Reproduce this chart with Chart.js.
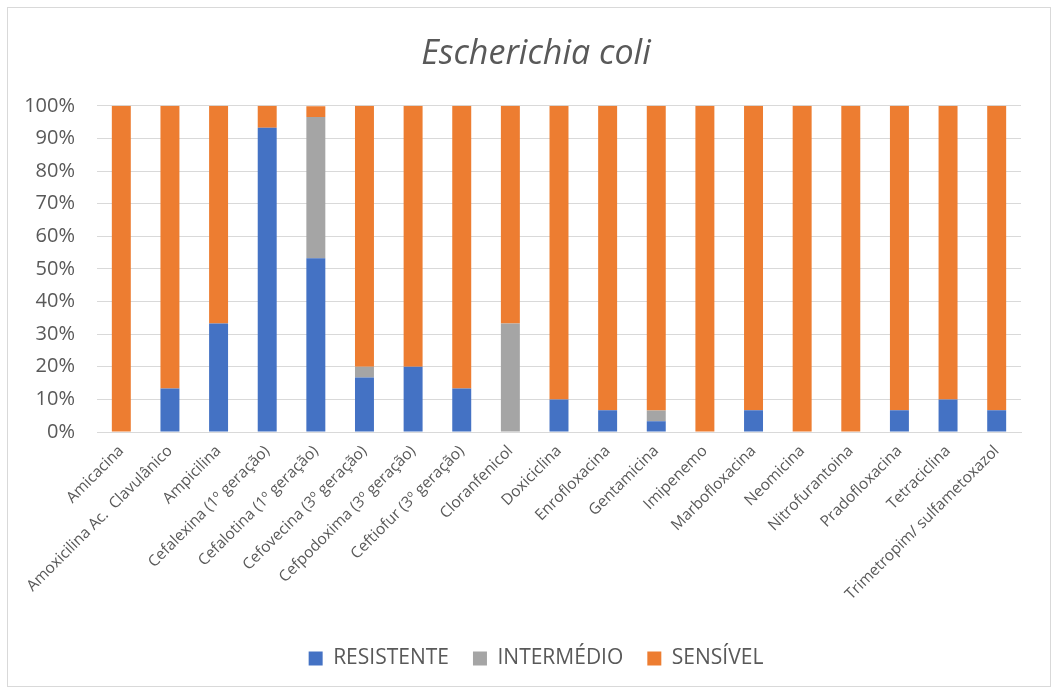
<!DOCTYPE html>
<html lang="pt">
<head>
    <meta charset="UTF-8">
    <title>Escherichia coli</title>
    <script src="https://cdn.jsdelivr.net/npm/chart.js"></script>
    <style>
        body { margin: 0; background: #fff; }
        #box { position: absolute; left: 7px; top: 7px; width: 1044px; height: 680px; border: 1px solid #d9d9d9; box-sizing: border-box; }
        #ecoli { position: absolute; left: 22px; top: 8px; }
    </style>
</head>
<body>
    <div id="box"></div>
    <canvas id="ecoli" width="1028" height="671"></canvas>

    <script>
        // categorias (antibióticos)
        const antibioticos = [
            "Amicacina", "Amoxicilina Ac.  Clavulânico", "Ampicilina", "Cefalexina (1º geração)",
            "Cefalotina (1º geração)", "Cefovecina (3º geração)", "Cefpodoxima (3º geração)",
            "Ceftiofur (3º geração)", "Cloranfenicol", "Doxiciclina", "Enrofloxacina", "Gentamicina",
            "Imipenemo", "Marbofloxacina", "Neomicina", "Nitrofurantoina", "Pradofloxacina",
            "Tetraciclina", "Trimetropim/ sulfametoxazol"
        ];

        // percentagens
        const resistente = [0, 13.3, 33.3, 93.3, 53.3, 16.7, 20, 13.3, 0, 10, 6.7, 3.3, 0, 6.7, 0, 0, 6.7, 10, 6.7];
        const intermedio = [0, 0, 0, 0, 43.3, 3.3, 0, 0, 33.3, 0, 0, 3.3, 0, 0, 0, 0, 0, 0, 0];
        const sensivel   = [100, 86.7, 66.7, 6.7, 3.3, 80, 80, 86.7, 66.7, 90, 93.3, 93.4, 100, 93.3, 100, 100, 93.3, 90, 93.3];

        const yTicks = [0, 10, 20, 30, 40, 50, 60, 70, 80, 90, 100];

        const cinza = "#595959";
        const fonte = "'Open Sans', sans-serif";

        new Chart(document.getElementById("ecoli").getContext("2d"), {
            type: "bar",
            data: {
                labels: antibioticos,
                datasets: [
                    { label: "RESISTENTE", data: resistente, backgroundColor: "#4472c4" },
                    { label: "INTERMÉDIO", data: intermedio, backgroundColor: "#a5a5a5" },
                    { label: "SENSÍVEL", data: sensivel, backgroundColor: "#ed7d31" }
                ]
            },
            options: {
                responsive: false,
                animation: false,
                layout: { padding: 0 },
                datasets: { bar: { barPercentage: 0.39, categoryPercentage: 1 } },
                plugins: {
                    title: {
                        display: true,
                        text: "Escherichia coli",
                        color: cinza,
                        font: { family: fonte, size: 34, style: "italic", weight: "normal", lineHeight: 1.2 },
                        padding: { top: 26, bottom: 31 }
                    },
                    legend: {
                        position: "bottom",
                        labels: {
                            color: cinza,
                            font: { family: fonte, size: 21 },
                            boxWidth: 14,
                            boxHeight: 14,
                            padding: 24
                        }
                    },
                    tooltip: { enabled: false }
                },
                scales: {
                    x: {
                        stacked: true,
                        grid: { display: false },
                        border: { color: "#d9d9d9", width: 1 },
                        afterFit: axis => { axis.height = 192; axis.paddingRight = 29; },
                        ticks: {
                            color: cinza,
                            font: { family: fonte, size: 15.5 },
                            maxRotation: 45,
                            minRotation: 45,
                            autoSkip: false,
                            padding: 2
                        }
                    },
                    y: {
                        stacked: true,
                        min: 0,
                        max: 100,
                        afterBuildTicks: axis => { axis.ticks = yTicks.map(v => ({ value: v })); },
                        afterFit: axis => { axis.width = 75; },
                        grid: { color: "#d9d9d9", lineWidth: 1, drawTicks: false },
                        border: { display: false },
                        ticks: {
                            color: cinza,
                            font: { family: fonte, size: 20 },
                            padding: 22,
                            callback: v => v + "%"
                        }
                    }
                }
            }
        });
    </script>
</body>
</html>
